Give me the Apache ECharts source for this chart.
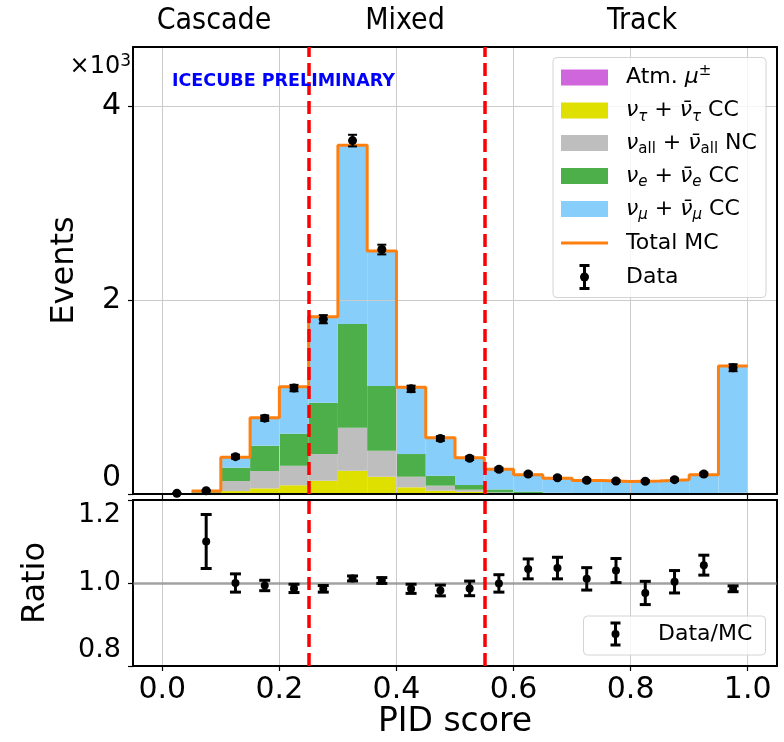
<!DOCTYPE html>
<html><head><meta charset="utf-8">
<script src="https://cdn.jsdelivr.net/npm/echarts@6/dist/echarts.min.js"></script>
<style>html,body{margin:0;padding:0;background:#fff}#c{width:784px;height:742px}</style>
</head><body><div id="c"></div>
<script>
// ---- data ----
const binEdges = [0.00,0.05,0.10,0.15,0.20,0.25,0.30,0.35,0.40,0.45,0.50,0.55,0.60,0.65,0.70,0.75,0.80,0.85,0.90,0.95,1.00];
const atmMu = [0,0,0,0,0,1,2,2,1,1,1,1,1,1,1,1,1,1,1,2];
const nuTau = [0,3,30,58,90,136,238,176,68,33,23,4,2,1,1,1,0,0,0,1];
const nuNC  = [0,9,104,179,202,275,444,268,109,52,21,12,7,4,3,2,2,2,2,4];
const nuE   = [0,10,137,261,330,529,1069,667,234,103,48,30,14,7,4,3,2,2,2,5];
const nuMu  = [0,8,109,289,484,887,1842,1392,688,392,281,208,175,149,131,123,129,143,193,1308];
const dataCounts = [7,33,385,782,1092,1802,3643,2520,1084,572,369,255,206,168,141,134,131,148,206,1302];
const dataErr    = [3,6,20,28,33,42,60,50,33,24,19,16,14,13,12,12,11,12,14,36];
const ratioVals = [null,1.100,1.000,0.994,0.987,0.986,1.011,1.006,0.986,0.982,0.987,0.999,1.034,1.036,1.010,1.030,0.976,1.003,1.043,0.986];
const ratioErr  = [null,0.065,0.022,0.0125,0.010,0.008,0.006,0.007,0.011,0.013,0.0176,0.021,0.024,0.026,0.027,0.029,0.028,0.027,0.024,0.007];
const regionCuts = [0.25, 0.55];
const regionNames = ['Cascade','Mixed','Track'];
const xTickValues = [0,0.2,0.4,0.6,0.8,1.0];
const yTickValues = [0,2000,4000];
const ratioTickValues = [0.8,1.0,1.2];
const compNames = ['Atm. mu','nu_tau CC','nu_all NC','nu_e CC','nu_mu CC'];

// ---- build ----
const FONT = 'DejaVu Sans';
const comps = [atmMu, nuTau, nuNC, nuE, nuMu];
const compColors = ['#d066dc','#dfdf00','#bebebe','#4daf4a','#87cefa'];
const nb = binEdges.length - 1;
const totals = [];
for (let i = 0; i < nb; i++) totals.push(comps.reduce((s, c) => s + c[i], 0));
const bottoms = new Array(nb).fill(0);
const barSeries = comps.map((c, k) => {
  const d = [];
  for (let i = 0; i < nb; i++) {
    if (c[i] > 0) d.push([binEdges[i], binEdges[i+1], bottoms[i], bottoms[i] + c[i]]);
    bottoms[i] += c[i];
  }
  return {
    type: 'custom', name: compNames[k], xAxisIndex: 0, yAxisIndex: 0, z: 1,
    encode: {x: [0,1], y: [2,3]}, data: d, silent: true,
    itemStyle: {color: compColors[k]},
    renderItem: function (params, api) {
      const p0 = api.coord([api.value(0), api.value(3)]);
      const p1 = api.coord([api.value(1), api.value(2)]);
      return {type: 'rect', shape: {x: p0[0], y: p0[1], width: p1[0]-p0[0], height: p1[1]-p0[1]},
              style: {fill: compColors[k]}};
    }
  };
});
let first = totals.findIndex(v => v > 0);
const stepData = [];
for (let i = first; i < nb; i++) stepData.push([binEdges[i], totals[i]]);
stepData.push([binEdges[nb], totals[nb-1]]);
const centers = [];
for (let i = 0; i < nb; i++) centers.push((binEdges[i] + binEdges[i+1]) / 2);
const topPts = centers.map((x, i) => [x, dataCounts[i], dataErr[i]]);
const ratioPts = [];
centers.forEach((x, i) => { if (ratioVals[i] !== null) ratioPts.push([x, ratioVals[i], ratioErr[i]]); });

function errItem(capHalf, lw, r) {
  return function (params, api) {
    const x = api.value(0), y = api.value(1), e = api.value(2);
    const c = api.coord([x, y]), t = api.coord([x, y + e]), b = api.coord([x, y - e]);
    const st = {stroke: '#000', lineWidth: lw};
    return {type: 'group', children: [
      {type: 'line', shape: {x1: c[0], y1: t[1], x2: c[0], y2: b[1]}, style: st},
      {type: 'line', shape: {x1: c[0]-capHalf, y1: t[1], x2: c[0]+capHalf, y2: t[1]}, style: st},
      {type: 'line', shape: {x1: c[0]-capHalf, y1: b[1], x2: c[0]+capHalf, y2: b[1]}, style: st},
      {type: 'circle', shape: {cx: c[0], cy: c[1], r: r}, style: {fill: '#000'}}
    ]};
  };
}

const yTopMax = 4608;
const dashStyle = {color: '#ff0000', width: 3.5, type: [13, 6]};
const topCut = regionCuts.map(c => [{coord: [c, 0]}, {coord: [c, yTopMax]}]);
const botCut = regionCuts.map(c => [{coord: [c, 0.8]}, {coord: [c, 1.2]}]);

const xBase = {type: 'value', min: -0.05, max: 1.05, splitNumber: 5};
const borderLine = {show: true, onZero: false, lineStyle: {color: '#000', width: 2}};
const tickStyle = {show: true, length: 5, lineStyle: {color: '#000', width: 1.2}};
const gridLine = {show: true, lineStyle: {color: '#cbcbcb', width: 1}};
const borderOnly = {z: 3, axisLine: borderLine, axisTick: {show: false}, axisLabel: {show: false}, splitLine: {show: false}};

const option = {
  animation: false,
  backgroundColor: '#fff',
  grid: [
    {left: 133, right: 7, top: 47, height: 447, outerBoundsMode: 'none'},
    {left: 133, right: 7, top: 500, height: 166, outerBoundsMode: 'none'}
  ],
  xAxis: [
    Object.assign({}, xBase, {gridIndex: 0, position: 'bottom', z: 3, axisLine: borderLine,
      axisTick: Object.assign({customValues: xTickValues}, tickStyle), axisLabel: {show: false}, splitLine: gridLine}),
    Object.assign({}, xBase, {gridIndex: 0, position: 'top'}, borderOnly),
    Object.assign({}, xBase, {gridIndex: 1, position: 'bottom', z: 3, axisLine: borderLine,
      axisTick: Object.assign({customValues: xTickValues}, tickStyle),
      axisLabel: {show: true, customValues: xTickValues, fontSize: 30, fontFamily: FONT, color: '#000', margin: 9,
        formatter: v => v.toFixed(1)},
      splitLine: gridLine,
      name: 'PID score', nameLocation: 'middle', nameGap: 36,
      nameTextStyle: {fontSize: 33, fontFamily: FONT, color: '#000'}}),
    Object.assign({}, xBase, {gridIndex: 1, position: 'top'}, borderOnly)
  ],
  yAxis: [
    {type: 'value', gridIndex: 0, min: 0, max: yTopMax, interval: 2000, position: 'left', z: 3,
      axisLine: borderLine, axisTick: Object.assign({customValues: yTickValues}, tickStyle),
      axisLabel: {customValues: yTickValues, fontSize: 30, fontFamily: FONT, color: '#000', margin: 12,
        formatter: v => v === 0 ? '{lo|0}' : String(v / 1000),
        rich: {lo: {fontSize: 30, fontFamily: FONT, color: '#000', padding: [0, 0, 32, 0]}}},
      splitLine: gridLine,
      name: 'Events', nameLocation: 'middle', nameGap: 52,
      nameTextStyle: {fontSize: 32, fontFamily: FONT, color: '#000'}},
    {type: 'value', gridIndex: 0, min: 0, max: yTopMax, position: 'right', z: 3,
      axisLine: borderLine, axisTick: {show: false}, axisLabel: {show: false}, splitLine: {show: false}},
    {type: 'value', gridIndex: 1, min: 0.8, max: 1.2, interval: 0.2, position: 'left', z: 3,
      axisLine: borderLine, axisTick: Object.assign({customValues: ratioTickValues}, tickStyle),
      axisLabel: {customValues: ratioTickValues, fontSize: 27, fontFamily: FONT, color: '#000', margin: 12,
        formatter: v => v > 1.1 ? '{hi|1.2}' : (v < 0.9 ? '{lo|0.8}' : v.toFixed(1)),
        rich: {hi: {fontSize: 27, fontFamily: FONT, color: '#000', padding: [30, 0, 0, 0]},
               lo: {fontSize: 27, fontFamily: FONT, color: '#000', padding: [0, 0, 32, 0]}}},
      splitLine: gridLine,
      name: 'Ratio', nameLocation: 'middle', nameGap: 81,
      nameTextStyle: {fontSize: 32, fontFamily: FONT, color: '#000'}},
    {type: 'value', gridIndex: 1, min: 0.8, max: 1.2, position: 'right', z: 3,
      axisLine: borderLine, axisTick: {show: false}, axisLabel: {show: false}, splitLine: {show: false}}
  ],
  series: barSeries.concat([
    {type: 'line', name: 'Total MC', xAxisIndex: 0, yAxisIndex: 0, z: 5, step: 'end', data: stepData,
      showSymbol: false, symbol: 'none', silent: true,
      lineStyle: {color: '#ff7f0e', width: 3},
      markLine: {silent: true, z: 10, symbol: ['none','none'], label: {show: false}, lineStyle: dashStyle, data: topCut}},
    {type: 'custom', name: 'Data', xAxisIndex: 0, yAxisIndex: 0, z: 6, silent: true,
      encode: {x: 0, y: 1}, data: topPts, renderItem: errItem(4.5, 2, 4.5)},
    {type: 'custom', name: 'Data/MC', xAxisIndex: 2, yAxisIndex: 2, z: 6, silent: true,
      encode: {x: 0, y: 1}, data: ratioPts, renderItem: errItem(5.5, 3, 4),
      markLine: {silent: true, z: 4, symbol: ['none','none'], label: {show: false},
        lineStyle: {color: 'rgba(128,128,128,0.55)', width: 3, type: 'solid'}, data: [{yAxis: 1.0}]}},
    {type: 'line', name: 'cuts', xAxisIndex: 2, yAxisIndex: 2, z: 5, data: [[0.25, 1.0]], symbol: 'none', silent: true,
      lineStyle: {opacity: 0},
      markLine: {silent: true, z: 10, symbol: ['none','none'], label: {show: false}, lineStyle: dashStyle, data: botCut}}
  ])
};

// ---- text & legends ----
const R = {fontSize: 22, fontFamily: FONT, fill: '#000', lineHeight: 28};
const rich = {
  r: Object.assign({}, R),
  i: Object.assign({}, R, {fontStyle: 'italic'}),
  sub: {fontSize: 15, fontFamily: FONT, fontStyle: 'italic', fill: '#000', lineHeight: 14, verticalAlign: 'bottom'},
  subr: {fontSize: 15, fontFamily: FONT, fill: '#000', lineHeight: 14, verticalAlign: 'bottom'},
  sup: {fontSize: 15, fontFamily: FONT, fill: '#000', lineHeight: 14, verticalAlign: 'top'}
};
const legendLabels = [
  '{r|Atm. }{i|\u03bc}{sup|\u00b1}',
  '{i|\u03bd}{sub|\u03c4}{r| + }{i|\u03bd\u0304}{sub|\u03c4}{r| CC}',
  '{i|\u03bd}{subr|all}{r| + }{i|\u03bd\u0304}{subr|all}{r| NC}',
  '{i|\u03bd}{sub|e}{r| + }{i|\u03bd\u0304}{sub|e}{r| CC}',
  '{i|\u03bd}{sub|\u03bc}{r| + }{i|\u03bd\u0304}{sub|\u03bc}{r| CC}',
  '{r|Total MC}',
  '{r|Data}'
];
const rowY = [77.5, 110.5, 143, 176, 209, 243, 277];
const g = [];
g.push({type: 'rect', z: 20, shape: {x: 553, y: 57.5, width: 213, height: 240, r: 4},
  style: {fill: 'rgba(255,255,255,0.8)', stroke: '#d4d4d4', lineWidth: 1}});
for (let k = 0; k < 5; k++) {
  g.push({type: 'rect', z: 21, shape: {x: 561, y: rowY[k] - 8, width: 47, height: 16}, style: {fill: compColors[k]}});
}
g.push({type: 'line', z: 21, shape: {x1: 561, y1: rowY[5], x2: 608, y2: rowY[5]}, style: {stroke: '#ff7f0e', lineWidth: 3}});
function errIcon(cx, cy, half, capHalf, lw, r) {
  const st = {stroke: '#000', lineWidth: lw};
  return [
    {type: 'line', z: 21, shape: {x1: cx, y1: cy - half, x2: cx, y2: cy + half}, style: st},
    {type: 'line', z: 21, shape: {x1: cx - capHalf, y1: cy - half, x2: cx + capHalf, y2: cy - half}, style: st},
    {type: 'line', z: 21, shape: {x1: cx - capHalf, y1: cy + half, x2: cx + capHalf, y2: cy + half}, style: st},
    {type: 'circle', z: 21, shape: {cx: cx, cy: cy, r: r}, style: {fill: '#000'}}
  ];
}
errIcon(584.5, rowY[6], 11.5, 5, 3, 4.5).forEach(e => g.push(e));
legendLabels.forEach((t, k) => {
  g.push({type: 'text', z: 21, x: 626, y: rowY[k], style: {text: t, rich: rich, fontSize: 22, fontFamily: FONT,
    fill: '#000', verticalAlign: 'middle', align: 'left'}});
});
// ratio legend
g.push({type: 'rect', z: 20, shape: {x: 583.5, y: 616, width: 182, height: 39, r: 4},
  style: {fill: 'rgba(255,255,255,0.8)', stroke: '#d4d4d4', lineWidth: 1}});
errIcon(615.5, 634, 11, 5, 3, 4).forEach(e => g.push(e));
g.push({type: 'text', z: 21, x: 658, y: 634, style: {text: 'Data/MC', fontSize: 22, fontFamily: FONT, fill: '#000',
  verticalAlign: 'middle', align: 'left'}});
// region titles
const titleX = [214, 405, 642];
regionNames.forEach((t, k) => {
  g.push({type: 'text', z: 21, x: titleX[k], y: 21, style: {text: t, fontSize: 30,
    fontFamily: "'DejaVu Sans Condensed', 'DejaVu Sans'", fill: '#000', align: 'center', verticalAlign: 'middle'}});
});
// preliminary label
g.push({type: 'text', z: 21, x: 172, y: 81, style: {text: 'ICECUBE PRELIMINARY', fontSize: 17.5, fontWeight: 'bold',
  fontFamily: FONT, fill: '#0000ff', align: 'left', verticalAlign: 'middle'}});
// offset text x10^3
g.push({type: 'text', z: 21, x: 131, y: 67, style: {text: '{r|\u00d710}{sup|3}', rich: {
  r: {fontSize: 24, fontFamily: FONT, fill: '#000', lineHeight: 28},
  sup: {fontSize: 17, fontFamily: FONT, fill: '#000', lineHeight: 14, verticalAlign: 'top'}},
  align: 'right', verticalAlign: 'middle'}});
option.graphic = {elements: g};

const chart = echarts.init(document.getElementById('c'), null, {renderer: 'canvas'});
chart.setOption(option);
</script></body></html>
